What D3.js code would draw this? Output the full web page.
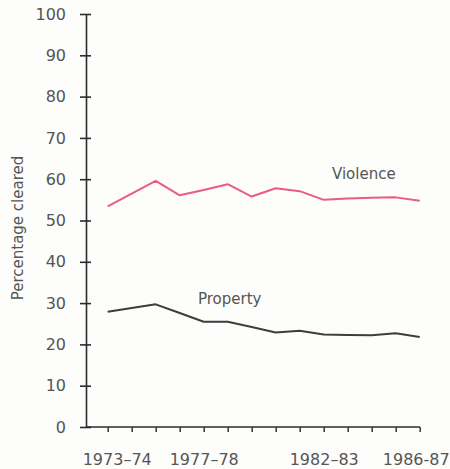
<!DOCTYPE html>
<html>
<head>
<meta charset="utf-8">
<script src="https://cdn.jsdelivr.net/npm/d3@7"></script>
<style>
  html, body { margin: 0; padding: 0; background: #fdfdfc; }
  svg { display: block; font-family: "DejaVu Sans", sans-serif; }
</style>
</head>
<body>
<svg id="chart" width="450" height="469"></svg>
<script>
const years = ["1973–74","1974–75","1975–76","1976–77","1977–78","1978–79","1979–80",
               "1980–81","1981–82","1982–83","1983–84","1984–85","1985–86","1986–87"];
const violence = [53.4, 56.5, 59.6, 56.1, 57.4, 58.8, 55.8, 57.8, 57.1, 55.0, 55.3, 55.5, 55.6, 54.8];
const property = [27.9, 28.8, 29.7, 27.6, 25.5, 25.5, 24.2, 22.9, 23.3, 22.4, 22.3, 22.2, 22.7, 21.8];
const xTickLabels = {"1973–74": "1973–74", "1977–78": "1977–78", "1982–83": "1982–83", "1986–87": "1986-87"};
const yTicks = [0, 10, 20, 30, 40, 50, 60, 70, 80, 90, 100];
const seriesNames = ["Violence", "Property"];

const svg = d3.select("#chart");
const axisX0 = 86, axisXEnd = 420;

const x = d3.scalePoint().domain(years).range([107.7, 419.7]);
const y = d3.scaleLinear().domain([0, 100]).range([427, 14]);

// Y axis
const yAxis = svg.append("g")
  .attr("transform", `translate(${axisX0},0)`)
  .call(d3.axisLeft(y).tickValues(yTicks).tickSizeInner(6).tickSizeOuter(0).tickPadding(14));
yAxis.select(".domain").attr("stroke", "#2b2b2b").attr("stroke-width", 1.6);
yAxis.selectAll(".tick line").attr("x1", -6).attr("x2", 5).attr("stroke", "#2b2b2b").attr("stroke-width", 1.6);
yAxis.selectAll(".tick text").attr("font-size", 16).attr("fill", "#555").attr("font-family", "DejaVu Sans, sans-serif");

// X axis
const xAxis = svg.append("g")
  .attr("transform", `translate(0,${y(0)})`)
  .call(d3.axisBottom(x).tickSizeInner(5).tickSizeOuter(0).tickPadding(22)
        .tickFormat(d => xTickLabels[d] || ""));
xAxis.select(".domain").attr("d", `M${axisX0},0H${axisXEnd}`).attr("stroke", "#2b2b2b").attr("stroke-width", 1.6);
xAxis.selectAll(".tick line").attr("stroke", "#2b2b2b").attr("stroke-width", 1.4);
xAxis.selectAll(".tick text").attr("font-size", 16).attr("fill", "#555").attr("font-family", "DejaVu Sans, sans-serif")
  .attr("dx", d => d === years[0] ? 9 : (d === years[years.length - 1] ? -4 : 0));

// Y label
svg.append("text")
  .attr("transform", `translate(23,228) rotate(-90)`)
  .attr("text-anchor", "middle")
  .attr("font-size", 15)
  .attr("fill", "#555")
  .text("Percentage cleared");

// Lines
const line = d3.line().x((d, i) => x(years[i])).y(d => y(d));
svg.append("path").datum(violence)
  .attr("fill", "none").attr("stroke", "#ec5a86").attr("stroke-width", 2).attr("stroke-linejoin", "round")
  .attr("d", line);
svg.append("path").datum(property)
  .attr("fill", "none").attr("stroke", "#3d3d3d").attr("stroke-width", 2).attr("stroke-linejoin", "round")
  .attr("d", line);

// Series labels
svg.append("text").attr("x", 332).attr("y", 179).attr("font-size", 15).attr("fill", "#555").text(seriesNames[0]);
svg.append("text").attr("x", 198).attr("y", 304).attr("font-size", 15).attr("fill", "#555").text(seriesNames[1]);
</script>
</body>
</html>
